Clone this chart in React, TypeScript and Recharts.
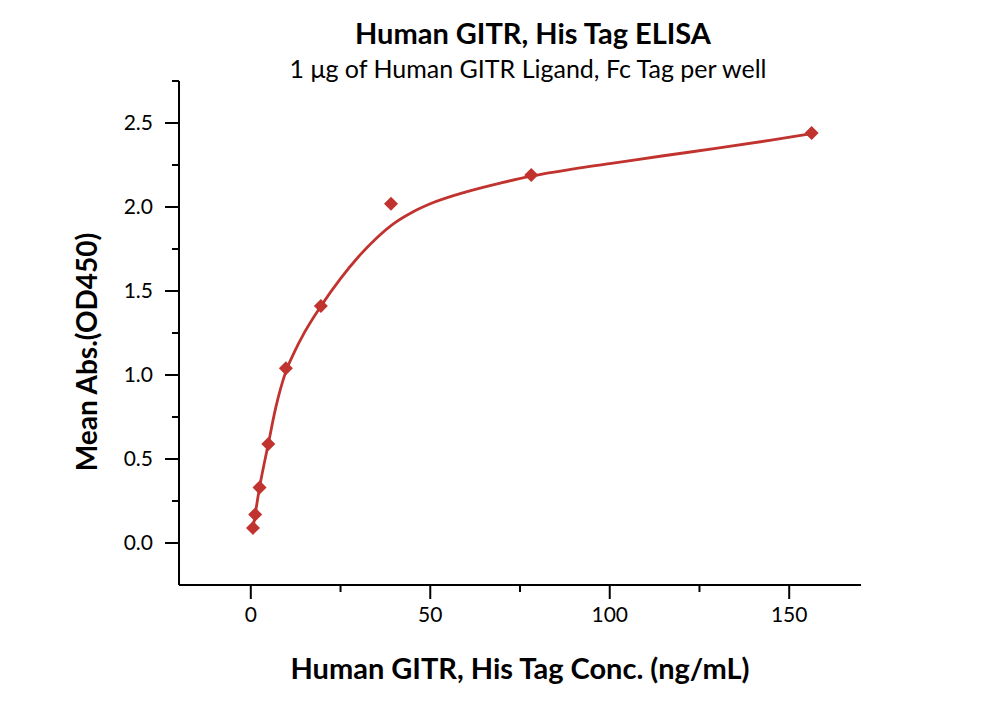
import { ComposedChart, Label, Line, Scatter, XAxis, YAxis } from 'recharts';

// ELISA readings: GITR concentration (ng/mL) vs mean OD450
const concentrations = [0.61, 1.22, 2.44, 4.88, 9.77, 19.53, 39.06, 78.13, 156.25];
const meanAbs = [0.09, 0.17, 0.33, 0.59, 1.04, 1.41, 2.02, 2.19, 2.44];

// fitted curve
const fitX = [0.61, 1.22, 2.44, 4.88, 7, 9.77, 12, 15, 19.53, 25, 30, 35, 40, 45, 50, 60, 70, 78.13, 90, 100, 115, 130, 145, 156.25];
const fitY = [0.09, 0.17, 0.33, 0.59, 0.81, 1.02, 1.13, 1.255, 1.41, 1.574, 1.704, 1.814, 1.904, 1.969, 2.019, 2.09, 2.145, 2.184, 2.227, 2.258, 2.305, 2.35, 2.398, 2.437];

const xTicks = [0, 25, 50, 75, 100, 125, 150];
const xLabelled = [0, 50, 100, 150];
const yTicks = [0, 0.25, 0.5, 0.75, 1, 1.25, 1.5, 1.75, 2, 2.25, 2.5, 2.75];
const yLabelled = [0, 0.5, 1, 1.5, 2, 2.5];

const points = concentrations.map((x, i) => ({ x, y: meanAbs[i] }));
const fit = fitX.map((x, i) => ({ x, y: fitY[i] }));

const RED = '#c0332f';
const FONT = 'Lato, Carlito, sans-serif';

/* eslint-disable @typescript-eslint/no-explicit-any */
function Diamond({ cx, cy }: any) {
  const r = 7;
  return <path d={`M${cx},${cy - r}L${cx + r},${cy}L${cx},${cy + r}L${cx - r},${cy}Z`} fill={RED} />;
}

function XTick({ x, y, payload }: any) {
  const major = xLabelled.includes(payload.value);
  const len = major ? 14 : 7;
  return (
    <g>
      <line x1={x} x2={x} y1={y} y2={y + len} stroke="#000" strokeWidth={2} />
      {major && (
        <text x={x} y={y + 22} dy="0.71em" textAnchor="middle" fill="#000" fontSize={21} fontFamily={FONT}>
          {payload.value}
        </text>
      )}
    </g>
  );
}

function YTick({ x, y, payload }: any) {
  const major = yLabelled.includes(payload.value);
  const len = major ? 14 : 7;
  return (
    <g>
      <line x1={x} x2={x - len} y1={y} y2={y} stroke="#000" strokeWidth={2} />
      {major && (
        <text x={x - 26} y={y} dy="0.355em" textAnchor="end" fill="#000" fontSize={21} fontFamily={FONT}>
          {payload.value.toFixed(1)}
        </text>
      )}
    </g>
  );
}

function XTitle({ viewBox }: any) {
  return (
    <text x={viewBox.x + viewBox.width / 2} y={viewBox.y + 94} textAnchor="middle" fontSize={29} fontWeight={700} fontFamily={FONT} fill="#000">
      Human GITR, His Tag Conc. (ng/mL)
    </text>
  );
}

function YTitle({ viewBox }: any) {
  const cx = viewBox.x + 18;
  const cy = viewBox.y + 271;
  return (
    <text x={cx} y={cy} transform={`rotate(-90 ${cx} ${cy})`} textAnchor="middle" fontSize={28} fontWeight={700} fontFamily={FONT} fill="#000">
      Mean Abs.(OD450)
    </text>
  );
}

export default function App() {
  return (
    <div style={{ position: 'absolute', left: 0, top: 0, width: 1000, height: 702, background: '#fff' }}>
      <svg width={1000} height={702} style={{ position: 'absolute', left: 0, top: 0 }}>
        <text x={533} y={44} textAnchor="middle" fontSize={29} fontWeight={700} fontFamily={FONT} fill="#000">
          Human GITR, His Tag ELISA
        </text>
        <text x={528} y={78} textAnchor="middle" fontSize={25} fontFamily={FONT} fill="#000">
          1 μg of Human GITR Ligand, Fc Tag per well
        </text>
      </svg>
      <div style={{ position: 'absolute', left: 0, top: 0 }}>
        <ComposedChart width={1000} height={702} margin={{ top: 81, right: 139, bottom: 0, left: 79 }}>
          <XAxis
            type="number"
            dataKey="x"
            domain={[-20, 170]}
            ticks={xTicks}
            interval={0}
            allowDataOverflow
            height={117}
            tickSize={0}
            tickMargin={0}
            tickLine={false}
            tick={<XTick />}
            axisLine={{ stroke: '#000', strokeWidth: 2 }}
          >
            <Label content={<XTitle />} />
          </XAxis>
          <YAxis
            type="number"
            dataKey="y"
            domain={[-0.25, 2.75]}
            ticks={yTicks}
            interval={0}
            allowDataOverflow
            width={100}
            tickSize={0}
            tickMargin={0}
            tickLine={false}
            tick={<YTick />}
            axisLine={{ stroke: '#000', strokeWidth: 2 }}
          >
            <Label content={<YTitle />} />
          </YAxis>
          <Line
            data={fit}
            dataKey="y"
            type="monotone"
            stroke={RED}
            strokeWidth={2.8}
            dot={false}
            activeDot={false}
            isAnimationActive={false}
          />
          <Scatter data={points} dataKey="y" shape={<Diamond />} isAnimationActive={false} />
        </ComposedChart>
      </div>
    </div>
  );
}
